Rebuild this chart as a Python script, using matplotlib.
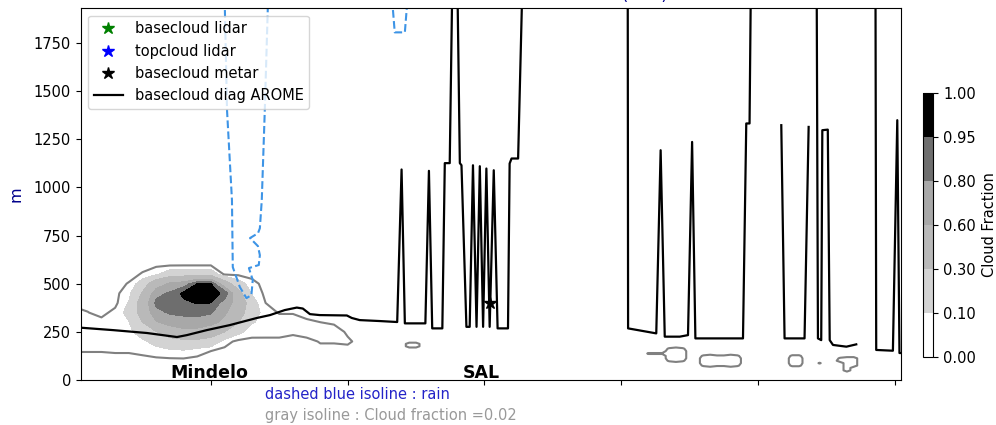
import numpy as np
import matplotlib.pyplot as plt

plt.rcParams['font.size'] = 10.5

# cloud fraction around Mindelo (x along the section, z in m)
x_main = np.arange(0, 115, 5)
z_main = np.arange(0, 700, 50)
cloud_frac = np.array([
    [0] * 23,
    [0] * 23,
    [0] * 23,
    [.022, .022, .022, .025, .025, .035, .057, .076, .085, .045, .02, 0, 0, 0, 0, 0, 0, 0, 0, 0, 0, 0, 0],
    [.05, .05, .05, .055, .048, .079, .144, .208, .238, .24, .202, .05, 0, 0, 0, 0, 0, 0, .025, .025, .03, 0, 0],
    [.06, .06, .06, .065, .072, .168, .291, .443, .527, .521, .434, .3, .137, .051, .05, .05, .03, .05, .05, .05, .01, 0, 0],
    [.06, .05, .04, .06, .095, .302, .582, .692, .727, .722, .673, .537, .311, .112, .06, .05, .05, .03, .02, .01, 0, 0, 0],
    [.05, .022, 0, .04, .14, .394, .745, .822, .841, .858, .821, .641, .406, .175, .05, .015, .015, 0, 0, 0, 0, 0, 0],
    [0, 0, 0, 0, .11, .414, .85, .887, .918, .959, .95, .72, .5, .157, .02, 0, 0, 0, 0, 0, 0, 0, 0],
    [0, 0, 0, 0, .066, .323, .728, .834, .99, .99, .99, .93, .375, .09, 0, 0, 0, 0, 0, 0, 0, 0, 0],
    [0, 0, 0, 0, .024, .17, .464, .634, .697, .95, .95, .438, .167, .04, 0, 0, 0, 0, 0, 0, 0, 0, 0],
    [0, 0, 0, 0, 0, .025, .08, .18, .2, .2, .2, 0, 0, 0, 0, 0, 0, 0, 0, 0, 0, 0, 0],
    [0] * 23,
    [0] * 23,
])

# small low clouds further east (finer grid), boxes of grid nodes: x0, x1, z0, z1, fraction
x_small = np.arange(115, 302.5, 2.5)
z_small = np.arange(0, 262.5, 12.5)
small_clouds = [
    (122.5, 125, 175, 187.5, .04),
    (210, 215, 137.5, 137.5, .025),
    (217.5, 222.5, 100, 162.5, .04),
    (217.5, 217.5, 100, 100, .026),
    (222.5, 222.5, 100, 100, .026),
    (217.5, 217.5, 162.5, 162.5, .026),
    (222.5, 222.5, 162.5, 162.5, .026),
    (230, 242.5, 75, 125, .04),
    (235, 237.5, 125, 125, .025),
    (235, 237.5, 75, 75, .025),
    (230, 230, 75, 75, .026),
    (230, 230, 125, 125, .026),
    (242.5, 242.5, 75, 75, .026),
    (242.5, 242.5, 125, 125, .026),
    (262.5, 265, 75, 125, .04),
    (262.5, 265, 75, 75, .028),
    (262.5, 265, 125, 125, .028),
    (272.5, 272.5, 87.5, 87.5, .024),
    (280, 285, 100, 112.5, .04),
    (280, 280, 112.5, 112.5, .026),
    (282.5, 285, 75, 87.5, .04),
    (282.5, 282.5, 50, 62.5, .04),
]

# rain isolines
rain1_x = [54.9, 55.1, 55.9, 57.7, 58.0, 60.6, 63.0, 64.8, 65.3, 63.9, 67.5, 67.9, 67.2, 64.3, 67.2, 67.9, 68.6, 69.7, 70.8, 71.0]
rain1_z = [2075, 1930, 1400, 934, 586, 482, 425, 441, 519, 581, 597, 648, 695, 737, 762, 788, 934, 1400, 1930, 2075]
rain2_x = [116.5, 116.5, 117.2, 120.9, 121.6, 121.6]
rain2_z = [2075, 1930, 1805, 1805, 1930, 2075]

# cloud base diagnosed by AROME (nan = no cloud)
nan = np.nan
base_x = [2.0, 14.2, 26.6, 37.6, 41.2, 48.5, 56.9, 66.8, 71.6, 77.0, 81.4, 83.6, 86.2, 89.8, 99.7, 101.5, 104.4, 111.8, 118.1,
          119.7, 120.9, 128.4, 129.7, 130.9, 134.6, 135.5, 137.3, 139.2, 141.0, 141.6, 143.4, 144.6,
          145.8, 147.1, 148.3, 149.5, 150.7, 151.9, 153.4, 154.8, 158.6, 159.2, 159.9, 162.3, 165.5, nan,
          202.3, 202.5, 212.8, 214.4, 215.9, 221.4, 224.4, 225.9, 227.1, 244.5, 245.7, 246.9, 248.0, nan,
          258.5, 259.7, 267.0, 268.5, nan,
          271.2, 271.9, 273.1, 273.5, 275.5, 276.2, 277.4, 282.3, 285.9, nan,
          292.8, 293.2, 299.3, 300.9, 301.7, 302.5]
base_z = [272, 259, 244, 223, 233, 259, 285, 322, 337, 363, 376, 371, 342, 337, 335, 322, 311, 306, 301,
          1093, 294, 294, 1086, 268, 268, 1126, 1126, 3000, 1126, 1115, 276, 276,
          1115, 276, 1110, 276, 1098, 276, 1089, 268, 268, 1124, 1150, 1150, 3000, nan,
          3000, 268, 242, 1193, 225, 225, 233, 1236, 216, 216, 1332, 1332, 3000, nan,
          1323, 216, 216, 1314, nan,
          3000, 216, 207, 1297, 1300, 207, 182, 173, 185, nan,
          3000, 156, 152, 1349, 140, 140]

# observations
metar_x, metar_z = [151.9], [398]
lidar_base_x, lidar_base_z = [], []
lidar_top_x, lidar_top_z = [], []

stations = ['Mindelo', 'SAL']
station_x = [49.3, 148.9]

levels = [0, 0.1, 0.3, 0.6, 0.8, 0.95, 1.0]
level_colors = ['white', '#d3d3d3', '#b9b9b9', '#a8a8a8', '#6e6e6e', 'black']

# build the small cloud field
small_frac = np.zeros((len(z_small), len(x_small)))
for x0, x1, z0, z1, v in small_clouds:
    xi = np.where((x_small > x0 - 0.1) & (x_small < x1 + 0.1))[0]
    zi = np.where((z_small > z0 - 0.1) & (z_small < z1 + 0.1))[0]
    small_frac[np.ix_(zi, xi)] = v

fig = plt.figure(figsize=(9.96, 4.25), dpi=100)
ax = fig.add_axes([0.081, 0.1059, 0.824, 0.8746])
cax = fig.add_axes([0.9264, 0.1607, 0.0107, 0.6198])

cs = ax.contourf(x_main, z_main, cloud_frac, levels=levels, colors=level_colors)
ax.contour(x_main, z_main, cloud_frac, levels=[0.02], colors='gray', linewidths=1.5)
ax.contour(x_small, z_small, small_frac, levels=[0.02], colors='gray', linewidths=1.5)

ax.plot(rain1_x, rain1_z, '--', color='#3d94e6', lw=1.5)
ax.plot(rain2_x, rain2_z, '--', color='#3d94e6', lw=1.5)

h_lb, = ax.plot(lidar_base_x, lidar_base_z, '*', color='green', ms=9, label='basecloud lidar')
h_lt, = ax.plot(lidar_top_x, lidar_top_z, '*', color='blue', ms=9, label='topcloud lidar')
h_base, = ax.plot(base_x, base_z, 'k-', lw=1.6, label='basecloud diag AROME')
h_m, = ax.plot(metar_x, metar_z, '*', color='black', ms=9, label='basecloud metar')

for name, xs in zip(stations, station_x):
    ax.text(xs, 8, name, ha='center', va='baseline', fontsize=12.5, fontweight='bold')

ax.legend(handles=[h_lb, h_lt, h_m, h_base], loc='upper left')

ax.set_xlim(2.4, 302.4)
ax.set_ylim(0, 1930)
ax.set_xticks(np.arange(50, 301, 50))
ax.set_xticklabels([])
ax.set_yticks(np.arange(0, 1751, 250))
ax.set_ylabel('m', color='darkblue', fontsize=11.5)
ax.yaxis.set_label_coords(-0.07, 0.5)
# title sits above the top of the saved picture, as in the original
ax.set_title('AROME Cloud Fraction Mindelo - SAL (UTC)', color='darkblue', fontsize=12)

cbar = fig.colorbar(cs, cax=cax, ticks=levels)
cbar.ax.set_yticklabels(['%.2f' % l for l in levels])
cbar.set_label('Cloud Fraction')

fig.text(0.266, 0.0706, 'dashed blue isoline : rain', color='#2323c8', va='center')
fig.text(0.266, 0.0212, 'gray isoline : Cloud fraction =0.02', color='#999999', va='center')

fig.savefig('out.png', dpi=100)
